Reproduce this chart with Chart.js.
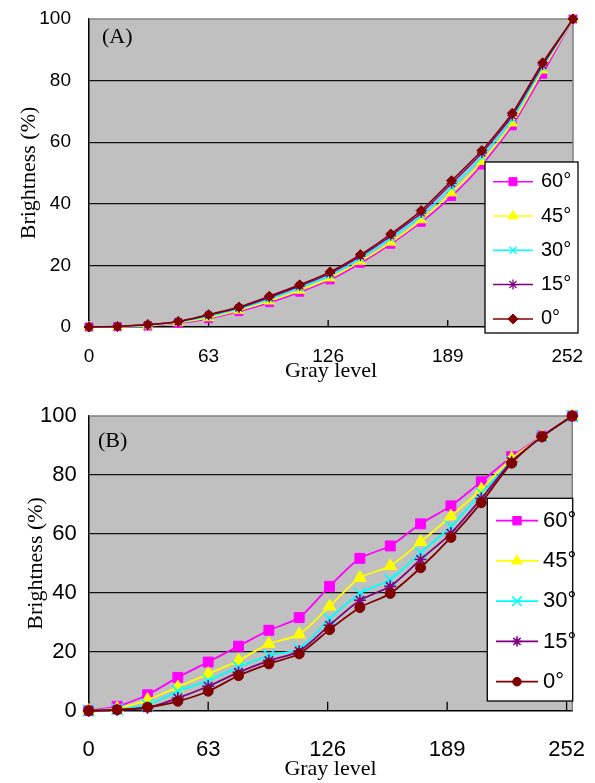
<!DOCTYPE html>
<html><head><meta charset="utf-8">
<script src="https://cdn.jsdelivr.net/npm/chart.js@4"></script>
<style>
html,body{margin:0;padding:0;background:#fff;width:595px;height:783px;overflow:hidden}
#ca{position:absolute;left:0;top:0}
#cb{position:absolute;left:0;top:390px}
</style></head><body>
<canvas id="ca" width="595" height="390"></canvas>
<canvas id="cb" width="595" height="393"></canvas>
<script>
// ---------- data ----------
const grayLevels = [0,15,31,47,63,79,95,111,127,143,159,175,191,207,223,239,255];
const xTickValues = [0,63,126,189,252];
const yTickValues = [0,20,40,60,80,100];
const seriesLabels = ['60°','45°','30°','15°','0°'];

// Panel (A)
const a60 = [0,0.1,0.3,1.2,2.7,5.0,7.9,11.3,15.3,20.7,26.9,34.0,42.4,52.6,65.3,82.1,100];
const a45 = [0,0.1,0.4,1.4,3.0,5.4,8.4,11.9,15.9,21.3,27.5,34.8,43.5,53.7,66.2,83.4,100];
const a30 = [0,0.2,0.6,1.6,3.5,5.9,9.1,12.7,16.8,22.3,28.8,36.0,45.3,55.2,67.5,84.3,100];
const a15 = [0,0.2,0.7,1.7,3.8,6.2,9.6,13.3,17.4,23.0,29.6,37.0,46.6,56.5,68.6,85.0,100];
const a0  = [0,0.2,0.8,1.8,4.0,6.5,10.0,13.7,17.9,23.5,30.2,37.8,47.5,57.3,69.4,85.8,100];

// Panel (B)
const b60 = [0,1.5,5.4,11.3,16.5,21.9,27.3,31.6,42.2,51.7,55.9,63.4,69.5,77.7,86.2,93.2,100];
const b45 = [0,0.8,3.7,8.0,12.5,17.0,22.7,25.9,35.4,45.1,49.1,57.3,66.0,75.1,85.6,93.0,100];
const b30 = [0,0.5,2.0,6.6,10.2,14.8,18.7,21.0,31.2,39.8,44.5,53.6,62.5,73.8,84.5,93.0,100];
const b15 = [0,0.3,1.0,4.3,8.3,13.0,17.0,20.2,29.0,37.5,42.2,51.3,60.2,72.0,84.5,93.0,100];
const b0  = [0,0.3,1.2,3.2,6.6,11.9,15.9,19.3,27.5,35.0,39.8,48.5,58.8,70.6,84.0,93.0,100];

// ---------- styles ----------
const colors = ['#ff00ff','#ffff00','#00ffff','#800080','#800000'];
const SERIF = "'Liberation Serif','Times New Roman',serif";
const SANS = "'Liberation Sans',Arial,sans-serif";

function pts(arr){ return arr.map((v,i)=>({x:grayLevels[i], y:v})); }

function zeroPad(s){ s.paddingTop = 0; s.paddingBottom = 0; s.paddingLeft = 0; s.paddingRight = 0; }

function makePanel(canvasId, series, cfg){
  const datasets = series.map((arr,i)=>({
    label: seriesLabels[i],
    data: pts(arr),
    borderColor: colors[i],
    backgroundColor: colors[i],
    borderWidth: cfg.lineWidth,
    pointStyle: cfg.styles[i],
    pointRadius: cfg.radii[i],
    pointBorderWidth: cfg.pointBorder[i],
    pointBorderColor: colors[i],
    pointBackgroundColor: colors[i],
    tension: cfg.tension,
    clip: false,
    order: 5 - i
  }));

  const panelPlugin = {
    id: 'panel_'+canvasId,
    beforeDraw(chart){
      const {ctx, chartArea:a} = chart;
      ctx.save();
      ctx.fillStyle = '#c0c0c0';
      ctx.fillRect(a.left, a.top, a.right-a.left, a.bottom-a.top);
      ctx.restore();
    },
    beforeDatasetsDraw(chart){
      const {ctx, chartArea:a} = chart;
      const xs = chart.scales.x;
      ctx.save();
      ctx.strokeStyle = '#808080';
      ctx.lineWidth = 1.5;
      ctx.beginPath();
      ctx.moveTo(a.left, a.top); ctx.lineTo(a.right, a.top); ctx.lineTo(a.right, a.bottom);
      ctx.stroke();
      ctx.strokeStyle = '#000';
      ctx.lineWidth = 1.3;
      xTickValues.forEach(v=>{
        const px = xs.getPixelForValue(v);
        ctx.beginPath(); ctx.moveTo(px, a.bottom); ctx.lineTo(px, a.bottom - cfg.tickLen); ctx.stroke();
      });
      ctx.restore();
    },
    afterDraw(chart){
      const ctx = chart.ctx;
      ctx.save();
      ctx.fillStyle = '#000';
      ctx.font = '22px ' + SERIF;
      ctx.textBaseline = 'middle';
      ctx.textAlign = 'left';
      ctx.fillText(cfg.tag, cfg.tagX, cfg.tagY);
      const L = cfg.legend;
      ctx.fillStyle = '#fff';
      ctx.fillRect(L.x, L.y, L.w, L.h);
      ctx.strokeStyle = '#000';
      ctx.lineWidth = 1.3;
      ctx.strokeRect(L.x, L.y, L.w, L.h);
      chart.data.datasets.forEach((ds,i)=>{
        const y = L.row0 + i*L.rowStep;
        ctx.strokeStyle = ds.borderColor;
        ctx.lineWidth = cfg.lineWidth;
        ctx.beginPath(); ctx.moveTo(L.lineX0, y); ctx.lineTo(L.lineX1, y); ctx.stroke();
        ctx.fillStyle = ds.backgroundColor;
        ctx.strokeStyle = ds.borderColor;
        ctx.lineWidth = ds.pointBorderWidth;
        Chart.helpers.drawPoint(ctx, {pointStyle: ds.pointStyle, rotation:0, radius: ds.pointRadius*L.markScale, borderWidth: ds.pointBorderWidth}, (L.lineX0+L.lineX1)/2, y);
        ctx.fillStyle = '#000';
        ctx.font = L.font;
        ctx.textAlign = 'left';
        ctx.textBaseline = 'middle';
        ctx.fillText(ds.label, L.textX, y);
      });
      ctx.restore();
    }
  };

  return new Chart(document.getElementById(canvasId), {
    type: 'line',
    data: { datasets },
    options: {
      responsive: false,
      devicePixelRatio: 1,
      animation: false,
      events: [],
      layout: { padding: cfg.padding },
      plugins: { legend: {display:false}, tooltip: {enabled:false}, title:{display:false} },
      scales: {
        x: {
          type: 'linear', min: 0, max: 255,
          afterBuildTicks: s => { s.ticks = xTickValues.map(v=>({value:v})); },
          afterFit: s => { s.height = cfg.xHeight; zeroPad(s); },
          grid: { display: true, drawOnChartArea: false, drawTicks: false },
          border: { display: true, color: '#000', width: 1.5 },
          ticks: { color: '#000', font: cfg.tickFont, padding: cfg.xTickPad, maxRotation: 0, autoSkip: false,
                   callback: v => String(v) },
          title: { display: true, text: 'Gray level', color: '#000',
                   font: { family: SERIF, size: 22 }, padding: { top: 0, bottom: cfg.xTitlePad } }
        },
        y: {
          type: 'linear', min: 0, max: 100,
          afterBuildTicks: s => { s.ticks = yTickValues.map(v=>({value:v})); },
          afterFit: s => { s.width = cfg.yWidth; zeroPad(s); },
          grid: { drawTicks: false, lineWidth: 1.3,
                  color: c => (c.tick && (c.tick.value === 0 || c.tick.value === 100)) ? 'rgba(0,0,0,0)' : '#111' },
          border: { display: true, color: '#000', width: 1.5 },
          ticks: { color: '#000', font: cfg.tickFont, padding: cfg.yTickPad, autoSkip: false,
                   callback: v => String(v) },
          title: { display: true, text: 'Brightness (%)', color: '#000',
                   font: { family: SERIF, size: 22 }, padding: { top: cfg.yTitlePad, bottom: 0 } }
        }
      }
    },
    plugins: [panelPlugin]
  });
}

makePanel('ca', [a60,a45,a30,a15,a0], {
  lineWidth: 1.5,
  styles: ['rect','triangle','crossRot','star','rectRot'],
  radii: [5.7,5.8,5,5,5],
  pointBorder: [1,1,1.3,1.3,1],
  tension: 0.2,
  padding: { top: 19, right: 22, left: 0, bottom: 0 },
  xHeight: 63, yWidth: 89,
  tickFont: { family: SANS, size: 19 },
  xTickPad: 18, yTickPad: 18,
  xTitlePad: 6, yTitlePad: 16,
  tickLen: 7,
  tag: '(A)', tagX: 102, tagY: 37,
  legend: { x: 485, y: 162, w: 93, h: 171, row0: 181.7, rowStep: 34.3,
            lineX0: 493, lineX1: 533, textX: 541, markScale: 1, font: '20px ' + SANS }
});

makePanel('cb', [b60,b45,b30,b15,b0], {
  lineWidth: 1.8,
  styles: ['rect','triangle','crossRot','star','circle'],
  radii: [7,7.2,8,6,5],
  pointBorder: [1,1,1.6,1.6,1],
  tension: 0.25,
  padding: { top: 26, right: 22.7, left: 0, bottom: 0 },
  xHeight: 72.3, yWidth: 88.7,
  tickFont: { family: SANS, size: 22 },
  xTickPad: 26, yTickPad: 12,
  xTitlePad: 1, yTitlePad: 23,
  tickLen: 9,
  tag: '(B)', tagX: 98, tagY: 51,
  legend: { x: 487.3, y: 108.3, w: 85.4, h: 202.7, row0: 130.7, rowStep: 40.25,
            lineX0: 496, lineX1: 538, textX: 543, markScale: 0.85, font: '22px ' + SANS }
});
</script>
</body></html>
